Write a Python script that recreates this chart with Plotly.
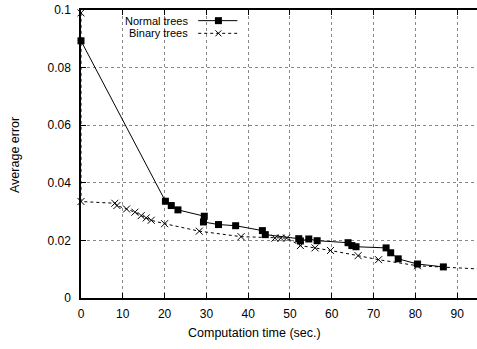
import plotly.graph_objects as go

# ---- data ----
normal_x = [0, 20.2, 21.6, 23.2, 29.5, 29.3, 32.9, 37.0, 43.4, 44.1, 52.1, 52.5,
            54.5, 56.5, 63.9, 64.8, 65.8, 73.0, 74.1, 75.9, 80.5, 86.7]
normal_y = [0.0893, 0.0336, 0.0321, 0.0306, 0.0284, 0.0264, 0.0255, 0.0251, 0.0234,
            0.0220, 0.0206, 0.0198, 0.0205, 0.0199, 0.0192, 0.0182, 0.0178, 0.0174,
            0.0157, 0.0136, 0.0118, 0.0108]

binary_x = [0, 0, 8.1, 8.6, 10.9, 12.9, 14.4, 15.6, 16.8, 20.0, 28.3, 38.3, 46.4,
            47.8, 49.2, 52.5, 56.0, 59.7, 66.3, 71.2, 80.5, 100]
binary_y = [0.099, 0.0335, 0.0329, 0.0321, 0.0309, 0.0298, 0.0286, 0.0278, 0.0270,
            0.0258, 0.0232, 0.0213, 0.0208, 0.0208, 0.0208, 0.0182, 0.0174, 0.0165,
            0.0147, 0.0133, 0.0112, 0.0097]

x_ticks = [0, 10, 20, 30, 40, 50, 60, 70, 80, 90]
y_ticks = [0, 0.02, 0.04, 0.06, 0.08, 0.1]
y_tick_text = ["0", "0.02", "0.04", "0.06", "0.08", "0.1"]
series_names = ["Normal trees", "Binary trees"]
x_title = "Computation time (sec.)"
y_title = "Average error"

FONT = "Liberation Sans, Arial, Helvetica, sans-serif"

fig = go.Figure()
fig.add_trace(go.Scatter(
    x=normal_x, y=normal_y, mode="lines+markers", name=series_names[0],
    line=dict(color="black", width=1),
    marker=dict(symbol="square", size=7, color="black"),
    cliponaxis=False, showlegend=False))
fig.add_trace(go.Scatter(
    x=binary_x, y=binary_y, mode="lines+markers", name=series_names[1],
    line=dict(color="black", width=1, dash="3px,3px"),
    marker=dict(symbol="x-thin-open", size=7, color="black",
                line=dict(color="black", width=1)),
    cliponaxis=False, showlegend=False))

# ---- custom legend (text left, sample right) ----
leg_text_x = 0.2727
leg_rows_y = [0.963, 0.919]
samp_x0, samp_x1, samp_mid = 0.296, 0.395, 0.347
for name, yy in zip(series_names, leg_rows_y):
    fig.add_annotation(x=leg_text_x, y=yy, xref="paper", yref="paper", text=name,
                       showarrow=False, xanchor="right", yanchor="middle",
                       height=12, borderpad=0, valign="middle",
                       font=dict(family=FONT, size=11, color="black"))
shapes = [
    dict(type="line", xref="paper", yref="paper", x0=samp_x0, x1=samp_x1,
         y0=leg_rows_y[0], y1=leg_rows_y[0], line=dict(color="black", width=1)),
    dict(type="rect", xref="paper", yref="paper", xsizemode="pixel", ysizemode="pixel",
         xanchor=samp_mid, yanchor=leg_rows_y[0], x0=-3.5, x1=3.5, y0=-3.5, y1=3.5,
         fillcolor="black", line=dict(width=0)),
    dict(type="line", xref="paper", yref="paper", x0=samp_x0, x1=samp_x1,
         y0=leg_rows_y[1], y1=leg_rows_y[1], line=dict(color="black", width=1, dash="3px,3px")),
    dict(type="line", xref="paper", yref="paper", xsizemode="pixel", ysizemode="pixel",
         xanchor=samp_mid, yanchor=leg_rows_y[1], x0=-3, x1=3, y0=-3, y1=3,
         line=dict(color="black", width=1)),
    dict(type="line", xref="paper", yref="paper", xsizemode="pixel", ysizemode="pixel",
         xanchor=samp_mid, yanchor=leg_rows_y[1], x0=-3, x1=3, y0=3, y1=-3,
         line=dict(color="black", width=1)),
]
fig.update_layout(shapes=shapes)

# axis titles (original canvas was cropped on the right, so title is off-centre)
fig.add_annotation(x=0.437, y=-0.1215, xref="paper", yref="paper", text=x_title,
                   showarrow=False, xanchor="center", yanchor="middle",
                   font=dict(family=FONT, size=12.5, color="black"))
fig.add_annotation(x=-0.1667, y=0.4965, xref="paper", yref="paper", text=y_title,
                   showarrow=False, xanchor="center", yanchor="middle", textangle=-90,
                   font=dict(family=FONT, size=12.5, color="black"))

fig.update_layout(
    width=477, height=349,
    margin=dict(l=81, r=0, t=10, b=51),
    paper_bgcolor="white", plot_bgcolor="white",
    font=dict(family=FONT, size=12, color="black"),
    showlegend=False,
)
fig.update_xaxes(
    range=[0, 94.75], tickvals=x_ticks, ticks="inside", ticklen=5, tickcolor="black",
    showline=True, linecolor="black", linewidth=1.5, mirror="ticks",
    showgrid=True, gridcolor="#888888", gridwidth=1, griddash="dot",
    zeroline=False, ticklabelstandoff=4,
)
fig.update_yaxes(
    range=[0, 0.1], tickvals=y_ticks, ticktext=y_tick_text, ticks="inside", ticklen=5,
    tickcolor="black", showline=True, linecolor="black", linewidth=1.5, mirror=False,
    showgrid=True, gridcolor="#888888", gridwidth=1, griddash="dot",
    zeroline=False, ticklabelstandoff=6,
)

fig.write_html("out.html")
